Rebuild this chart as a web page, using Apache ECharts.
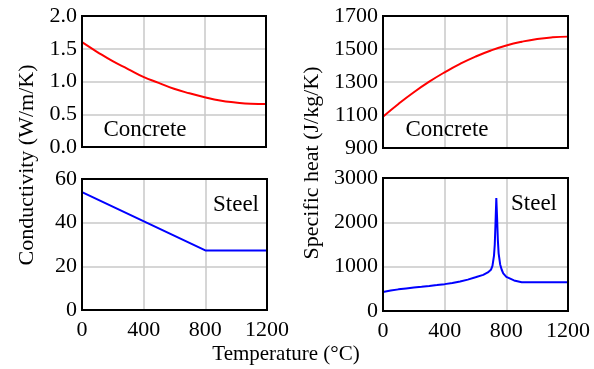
<!DOCTYPE html>
<html>
<head>
<meta charset="utf-8">
<script src="https://cdn.jsdelivr.net/npm/echarts@6/dist/echarts.min.js"></script>
<style>
  html, body { margin: 0; padding: 0; background: #fff; }
  #main { width: 594px; height: 369px; }
</style>
</head>
<body>
<div id="main"></div>
<script>
  // temperatures (°C) and values
  const concreteTemps = [0, 100, 200, 300, 400, 500, 600, 700, 800, 900, 1000, 1100, 1200]
  const concreteCond = [1.60, 1.45, 1.31, 1.19, 1.07, 0.98, 0.89, 0.82, 0.76, 0.71, 0.68, 0.66, 0.655]
  const concreteHeat = [1090, 1167, 1238, 1302, 1359, 1410, 1454, 1491, 1521, 1544, 1561, 1571, 1575]

  const steelCondTemps = [0, 800, 1200]
  const steelCond = [54, 27.3, 27.3]

  const steelHeatTemps = [0, 50, 100, 150, 200, 250, 300, 350, 400, 450, 500, 550, 600, 650, 680, 700, 710, 720, 725, 730, 735, 740, 745, 750, 760, 770, 780, 800, 850, 900, 1000, 1100, 1200]
  const steelHeat = [430, 460, 488, 510, 530, 547, 565, 584, 606, 633, 666, 708, 760, 814, 870, 930, 1020, 1250, 1500, 2000, 2550, 2100, 1600, 1300, 1050, 930, 850, 770, 690, 650, 650, 650, 650]

  const xTicks = [0, 400, 800, 1200]

  const serif = 'Liberation Serif'
  const chart = echarts.init(document.getElementById('main'))

  function pairs(xs, ys) {
    return xs.map((x, i) => [x, ys[i]])
  }

  const grids = [
    {left: 82, top: 16, width: 184, height: 131},
    {left: 383, top: 16, width: 185, height: 132},
    {left: 82, top: 179, width: 185, height: 131},
    {left: 383, top: 178, width: 185, height: 133}
  ].map(g => Object.assign(g, {show: true, borderColor: '#000', borderWidth: 2, backgroundColor: 'transparent', z: 5}))

  const gridLine = {show: true, showMinLine: false, showMaxLine: false, lineStyle: {color: '#c8c8c8', width: 1.5}}

  function xAxis(i, showLabel) {
    return {
      type: 'value', gridIndex: i, min: xTicks[0], max: xTicks[xTicks.length - 1], interval: 400,
      axisLine: {show: false}, axisTick: {show: false},
      axisLabel: {show: showLabel, color: '#000', fontFamily: serif, fontSize: 22, margin: 9, formatter: v => String(v)},
      splitLine: gridLine
    }
  }

  function yAxis(i, min, max, interval, fmt) {
    return {
      type: 'value', gridIndex: i, min: min, max: max, interval: interval,
      axisLine: {show: false}, axisTick: {show: false},
      axisLabel: {color: '#000', fontFamily: serif, fontSize: 22, margin: 5, formatter: fmt || (v => String(v))},
      splitLine: gridLine
    }
  }

  function label(text, x, y, size, rotate) {
    return {
      type: 'text', x: x, y: y, rotation: rotate ? Math.PI / 2 : 0, z: 10,
      style: {text: text, fontFamily: serif, fontSize: size, fill: '#000', align: 'center', verticalAlign: 'middle'}
    }
  }

  let option = {
    animation: false,
    grid: grids,
    xAxis: [xAxis(0, false), xAxis(1, false), xAxis(2, true), xAxis(3, true)],
    yAxis: [
      yAxis(0, 0, 2, 0.5, v => v.toFixed(1)),
      yAxis(1, 900, 1700, 200),
      yAxis(2, 0, 60, 20),
      yAxis(3, 0, 3000, 1000)
    ],
    series: [
      {type: 'line', xAxisIndex: 0, yAxisIndex: 0, data: pairs(concreteTemps, concreteCond), smooth: true,
        showSymbol: false, lineStyle: {color: '#ff0000', width: 2}, z: 3},
      {type: 'line', xAxisIndex: 1, yAxisIndex: 1, data: pairs(concreteTemps, concreteHeat), smooth: true,
        showSymbol: false, lineStyle: {color: '#ff0000', width: 2}, z: 3},
      {type: 'line', xAxisIndex: 2, yAxisIndex: 2, data: pairs(steelCondTemps, steelCond),
        showSymbol: false, lineStyle: {color: '#0000ff', width: 2}, z: 3},
      {type: 'line', xAxisIndex: 3, yAxisIndex: 3, data: pairs(steelHeatTemps, steelHeat),
        showSymbol: false, lineStyle: {color: '#0000ff', width: 2}, z: 3}
    ],
    graphic: [
      label('Concrete', 145, 130, 23),
      label('Concrete', 447, 130, 23),
      label('Steel', 236, 205, 23),
      label('Steel', 534, 204, 23),
      label('Conductivity (W/m/K)', 27, 165, 22, true),
      label('Specific heat (J/kg/K)', 312, 163, 22, true),
      label('Temperature (°C)', 286, 354, 21)
    ]
  }

  chart.setOption(option)
</script>
</body>
</html>
